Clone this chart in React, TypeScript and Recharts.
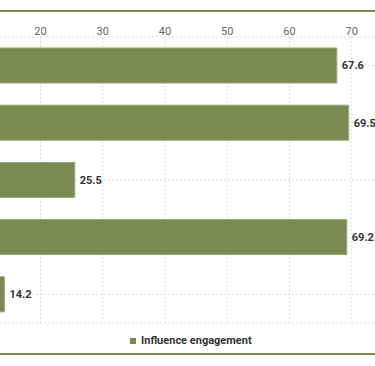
import React from 'react';
import {
  BarChart,
  Bar,
  XAxis,
  YAxis,
  CartesianGrid,
  Legend,
  LabelList,
} from 'recharts';

const platforms = ['Instagram', 'TikTok', 'Facebook', 'YouTube', 'Twitter'];
const engagement = [67.6, 69.5, 25.5, 69.2, 14.2];
const xTicks = [0, 10, 20, 30, 40, 50, 60, 70, 80];

const OLIVE = '#7b8a52';

const data = platforms.map((name, i) => ({ name, value: engagement[i] }));

const LegendContent = () => (
  <div style={{ display: 'flex', alignItems: 'center', fontFamily: 'Roboto, sans-serif', lineHeight: '14px' }}>
    <span style={{ width: 6, height: 6, background: OLIVE, display: 'inline-block', marginRight: 5 }} />
    <span style={{ fontSize: 11, fontWeight: 700, color: '#333' }}>Influence engagement</span>
  </div>
);

const App: React.FC = () => {
  return (
    <div
      style={{
        position: 'fixed',
        left: 0,
        top: 0,
        width: 375,
        height: 366,
        overflow: 'hidden',
        background: '#fff',
      }}
    >
      <div style={{ position: 'absolute', left: 0, right: 0, top: 10, borderTop: `2px solid ${OLIVE}` }} />
      <div style={{ position: 'absolute', left: 0, right: 0, top: 353, borderTop: `2px solid ${OLIVE}` }} />
      <div style={{ position: 'absolute', left: -184, top: 0 }}>
        <BarChart
          width={598}
          height={366}
          data={data}
          layout="vertical"
          margin={{ top: 7, right: 0, bottom: 29, left: 0 }}
          barSize={35}
        >
          <CartesianGrid stroke="#ddd" strokeDasharray="2 2" />
          <XAxis
            type="number"
            orientation="top"
            domain={[0, 80]}
            ticks={xTicks}
            axisLine={false}
            tickLine={false}
            tick={{ fontSize: 11, fill: '#666', fontFamily: 'Roboto, sans-serif', dy: 6 }}
          />
          <YAxis
            type="category"
            dataKey="name"
            width={100}
            axisLine={false}
            tickLine={false}
            tick={{ fontSize: 11, fill: '#666' }}
          />
          <Legend
            verticalAlign="bottom"
            content={<LegendContent />}
            wrapperStyle={{ left: 184 + 130, width: 'auto', height: 14, bottom: 18 }}
          />
          <Bar dataKey="value" fill={OLIVE} stroke="#98a573" isAnimationActive={false}>
            <LabelList
              dataKey="value"
              position="right"
              offset={5}
              style={{ fontSize: 11, fontWeight: 700, fill: '#333', fontFamily: 'Roboto, sans-serif' }}
            />
          </Bar>
        </BarChart>
      </div>
    </div>
  );
};

export default App;
